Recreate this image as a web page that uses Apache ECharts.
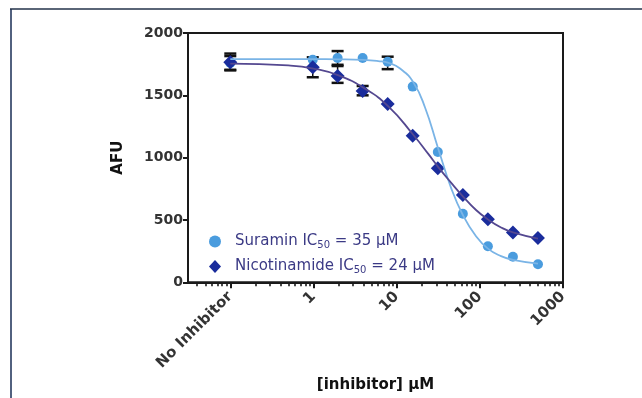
<!DOCTYPE html>
<html>
<head>
<meta charset="utf-8">
<script src="https://cdn.jsdelivr.net/npm/echarts@6/dist/echarts.min.js"></script>
<style>
  html, body { margin: 0; padding: 0; background: #fff; }
  #chart { width: 642px; height: 398px; }
</style>
</head>
<body>
<div id="chart"></div>
<script>
// concentrations (uM); 0.1 stands for the "No Inhibitor" well
var conc = [0.1, 0.98, 1.95, 3.9, 7.8, 15.6, 31.25, 62.5, 125, 250, 500];
var suraminAFU = [1760, 1785, 1800, 1800, 1770, 1570, 1045, 550, 290, 205, 145];
var nicotinamideAFU = [1765, 1725, 1655, 1535, 1430, 1175, 915, 700, 505, 400, 355];

// error bars: [conc, low, high]
var suraminErr = [[0.1, 1705, 1815], [1.95, 1745, 1855], [7.8, 1710, 1810]];
var nicotinamideErr = [[0.1, 1700, 1835], [0.98, 1645, 1805], [1.95, 1600, 1735], [3.9, 1500, 1575]];

// fitted curves
var suraminFitX = [0.1, 1, 2, 4, 6, 8, 11, 16, 22, 31, 45, 62.5, 90, 125, 180, 250, 500];
var suraminFitY = [1790, 1790, 1789, 1785, 1775, 1760, 1715, 1600, 1400, 1090, 760, 540, 370, 270, 210, 180, 150];
var nicotinamideFitX = [0.1, 0.5, 1, 2, 4, 8, 16, 24, 32, 45, 62.5, 90, 125, 180, 250, 500];
var nicotinamideFitY = [1755, 1740, 1715, 1660, 1560, 1410, 1180, 1030, 920, 800, 690, 580, 505, 440, 400, 350];

// axis ticks
var majorTicks = [0.1, 1, 10, 100, 1000];
var tickLabels = ['No Inhibitor', '1', '10', '100', '1000'];
var minorTicks = [];
[0.01, 0.1, 1, 10, 100].forEach(function (d) {
  for (var k = 2; k <= 9; k++) {
    if (k * d > 0.031) minorTicks.push(k * d);
  }
});

var FONT = 'DejaVu Sans';

function zip(a, b) {
  return a.map(function (v, i) { return [v, b[i]]; });
}

var chart = echarts.init(document.getElementById('chart'));

var errorRender = function (params, api) {
  var x = api.value(0);
  var lo = api.coord([x, api.value(1)]);
  var hi = api.coord([x, api.value(2)]);
  var w = 6;
  var st = { stroke: '#111', lineWidth: 1.5 };
  var cap = { stroke: '#111', lineWidth: 2.5 };
  return {
    type: 'group',
    children: [
      { type: 'line', shape: { x1: lo[0], y1: lo[1], x2: hi[0], y2: hi[1] }, style: st },
      { type: 'line', shape: { x1: hi[0] - w, y1: hi[1], x2: hi[0] + w, y2: hi[1] }, style: cap },
      { type: 'line', shape: { x1: lo[0] - w, y1: lo[1], x2: lo[0] + w, y2: lo[1] }, style: cap }
    ]
  };
};

var option = {
  animation: false,
  backgroundColor: '#fff',
  grid: {
    left: 188, top: 33, right: 79, bottom: 114,
    show: true, borderColor: '#1a1a1a', borderWidth: 2
  },
  graphic: [
    { type: 'line', shape: { x1: 11, y1: 9, x2: 11, y2: 398 }, style: { stroke: '#52617f', lineWidth: 2 } },
    { type: 'line', shape: { x1: 10, y1: 9, x2: 642, y2: 9 }, style: { stroke: '#23324a', lineWidth: 1.5 } }
  ],
  legend: {
    left: 204, top: 229,
    orient: 'vertical',
    itemGap: 9,
    itemWidth: 12, itemHeight: 13,
    data: [
      { name: 'Suramin', icon: 'circle' },
      { name: 'Nicotinamide', icon: 'diamond' }
    ],
    formatter: function (name) {
      return name === 'Suramin'
        ? 'Suramin IC{sub|50} = 35 \u03bcM'
        : 'Nicotinamide IC{sub|50} = 24 \u03bcM';
    },
    textStyle: {
      color: '#3b3a85', fontSize: 15, fontFamily: FONT,
      padding: [0, 0, 0, 9],
      rich: {
        sub: { fontSize: 10, fontFamily: FONT, color: '#3b3a85', verticalAlign: 'bottom', padding: [7, 0, 0, 0] }
      }
    }
  },
  xAxis: [
    {
      type: 'log', logBase: 10, min: 0.031, max: 1000,
      axisLine: { show: true, lineStyle: { color: '#1a1a1a', width: 2 } },
      axisTick: { show: true, customValues: majorTicks, length: 6, lineStyle: { color: '#1a1a1a', width: 2 } },
      axisLabel: {
        customValues: majorTicks,
        rotate: 45, margin: 12,
        fontFamily: FONT, fontWeight: 'bold', fontSize: 15, color: '#333',
        formatter: function (v) {
          for (var i = 0; i < majorTicks.length; i++) {
            if (Math.abs(Math.log10(v) - Math.log10(majorTicks[i])) < 1e-6) return tickLabels[i];
          }
          return '';
        }
      },
      splitLine: { show: false },
      name: '[inhibitor] \u03bcM',
      nameLocation: 'middle', nameGap: 95,
      nameTextStyle: { fontFamily: FONT, fontWeight: 'bold', fontSize: 15, color: '#111' }
    },
    {
      type: 'log', logBase: 10, min: 0.031, max: 1000, position: 'bottom',
      axisLine: { show: false },
      axisTick: { show: true, customValues: minorTicks, length: 4, lineStyle: { color: '#1a1a1a', width: 1.6 } },
      axisLabel: { show: false },
      splitLine: { show: false }
    }
  ],
  yAxis: {
    type: 'value', min: 0, max: 2000, interval: 500,
    axisLine: { show: true, lineStyle: { color: '#1a1a1a', width: 2 } },
    axisTick: { show: true, length: 5, lineStyle: { color: '#1a1a1a', width: 2 } },
    axisLabel: {
      fontFamily: FONT, fontWeight: 'bold', fontSize: 14, color: '#333', margin: 5,
      formatter: function (v) { return String(v); }
    },
    splitLine: { show: false },
    name: 'AFU', nameLocation: 'middle', nameGap: 62, nameRotate: 90,
    nameTextStyle: { fontFamily: FONT, fontWeight: 'bold', fontSize: 15, color: '#111' }
  },
  series: [
    {
      name: 'Suramin fit', type: 'line', smooth: true, showSymbol: false, silent: true,
      data: zip(suraminFitX, suraminFitY),
      lineStyle: { color: '#7ab4e6', width: 1.8 }
    },
    {
      name: 'Nicotinamide fit', type: 'line', smooth: true, showSymbol: false, silent: true,
      data: zip(nicotinamideFitX, nicotinamideFitY),
      lineStyle: { color: '#544890', width: 1.8 }
    },
    {
      name: 'err', type: 'custom', renderItem: errorRender, silent: true,
      encode: { x: 0, y: [1, 2] },
      data: suraminErr.concat(nicotinamideErr)
    },
    {
      name: 'Suramin', type: 'scatter', symbol: 'circle', symbolSize: 10,
      data: zip(conc, suraminAFU),
      itemStyle: { color: '#4a9cde', opacity: 1 }
    },
    {
      name: 'Nicotinamide', type: 'scatter', symbol: 'diamond', symbolSize: 14,
      data: zip(conc, nicotinamideAFU),
      itemStyle: { color: '#1a2c9c', opacity: 1 }
    }
  ]
};

chart.setOption(option);
</script>
</body>
</html>
